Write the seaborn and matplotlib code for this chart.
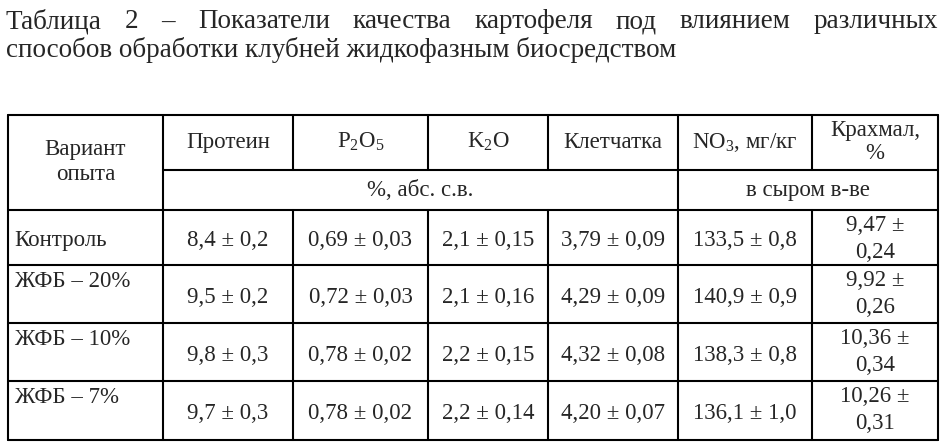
import matplotlib
matplotlib.use("Agg")
import matplotlib.pyplot as plt
import seaborn as sns

sns.set_theme(style="white")
plt.rcParams['font.family'] = ['Liberation Serif', 'DejaVu Serif']
plt.rcParams['mathtext.fontset'] = 'custom'
plt.rcParams['mathtext.rm'] = 'Liberation Serif'
plt.rcParams['mathtext.it'] = 'Liberation Serif'

title1 = "Таблица 2 – Показатели качества картофеля под влиянием различных"
title2 = "способов обработки клубней жидкофазным биосредством"
columns = ["Протеин", "P$_2$O$_5$", "K$_2$O", "Клетчатка", "NO$_3$, мг/кг"]
variants = ["Контроль", "ЖФБ – 20%", "ЖФБ – 10%", "ЖФБ – 7%"]
protein = ["8,4 ± 0,2", "9,5 ± 0,2", "9,8 ± 0,3", "9,7 ± 0,3"]
p2o5 = ["0,69 ± 0,03", "0,72 ± 0,03", "0,78 ± 0,02", "0,78 ± 0,02"]
k2o = ["2,1 ± 0,15", "2,1 ± 0,16", "2,2 ± 0,15", "2,2 ± 0,14"]
fiber = ["3,79 ± 0,09", "4,29 ± 0,09", "4,32 ± 0,08", "4,20 ± 0,07"]
no3 = ["133,5 ± 0,8", "140,9 ± 0,9", "138,3 ± 0,8", "136,1 ± 1,0"]
starch_mean = ["9,47 ±", "9,92 ±", "10,36 ±", "10,26 ±"]
starch_err = ["0,24", "0,26", "0,34", "0,31"]

W, H = 944, 444
fig = plt.figure(figsize=(W/100, H/100), dpi=100)
ax = fig.add_axes([0, 0, 1, 1])
ax.set_xlim(0, W); ax.set_ylim(H, 0); ax.axis('off')

fs = 16.5
tfs = 19.5
# justified first title line
renderer = fig.canvas.get_renderer()
words = title1.split(" ")
x0, x1 = 6, 938
arts = [ax.text(0, 22, w, fontsize=tfs, va='center', ha='left') for w in words]
widths = [a.get_window_extent(renderer).width for a in arts]
gap = (x1 - x0 - sum(widths)) / (len(words) - 1)
x = x0
for a, w in zip(arts, widths):
    a.set_x(x)
    x += w + gap
ax.text(x0, 50, title2, fontsize=tfs, va='center', ha='left')

xs = [8, 163, 293, 428, 548, 678, 812, 938]
top, ymid, yh, bot = 115, 170, 210, 440
rows = [210, 265, 323, 381, 440]
lw = 1.5
k = dict(color='black', lw=lw)
ax.plot([xs[0], xs[-1]], [top, top], **k)
ax.plot([xs[1], xs[-1]], [ymid, ymid], **k)
for y in rows:
    ax.plot([xs[0], xs[-1]], [y, y], **k)
for i, x in enumerate(xs):
    if i in (2, 3, 4, 6):
        ax.plot([x, x], [top, ymid], **k); ax.plot([x, x], [yh, bot], **k)
    else:
        ax.plot([x, x], [top, bot], **k)

ax.text((xs[0]+xs[1])/2, 162, "Вариант\nопыта", fontsize=fs, ha='center', va='center', linespacing=1.2)
for i, c in enumerate(columns):
    ax.text((xs[i+1]+xs[i+2])/2, 142, c, fontsize=fs, ha='center', va='center')
ax.text((xs[6]+xs[7])/2, 142, "Крахмал,\n%", fontsize=fs, ha='center', va='center', linespacing=1.1)
ax.text((xs[1]+xs[5])/2, 190, "%, абс. с.в.", fontsize=fs, ha='center', va='center')
ax.text((xs[5]+xs[7])/2, 190, "в сыром в-ве", fontsize=fs, ha='center', va='center')

cols = [protein, p2o5, k2o, fiber, no3]
for r in range(4):
    ya, yb = rows[r], rows[r+1]
    yc = (ya + yb) / 2 + 3
    yname = yc if r == 0 else ya + 16
    ax.text(14, yname, variants[r], fontsize=fs, ha='left', va='center')
    for j, col in enumerate(cols):
        ax.text((xs[j+1]+xs[j+2])/2, yc, col[r], fontsize=fs, ha='center', va='center')
    cx = (xs[6]+xs[7])/2
    ax.text(cx, ya + 15, starch_mean[r], fontsize=fs, ha='center', va='center')
    ax.text(cx, ya + 42, starch_err[r], fontsize=fs, ha='center', va='center')

fig.savefig("out.png", dpi=100, facecolor='white')
